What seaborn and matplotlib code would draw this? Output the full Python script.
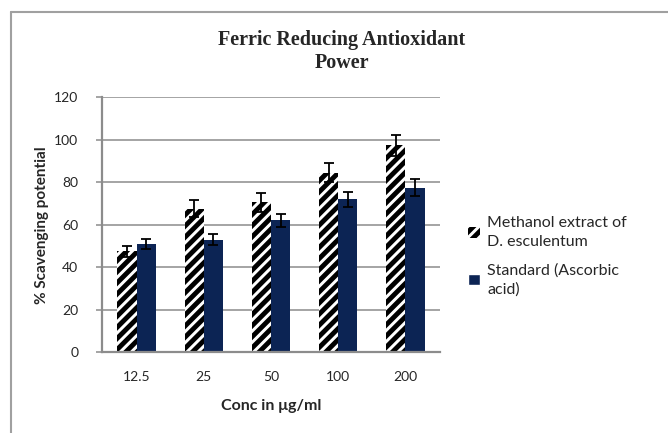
import matplotlib
matplotlib.use("Agg")
import matplotlib.pyplot as plt
from matplotlib.lines import Line2D
import pandas as pd
import seaborn as sns

# values
conc = ["12.5", "25", "50", "100", "200"]
methanol = [47.5, 67.5, 70.5, 84.5, 97.5]
methanol_err = [2.5, 4.0, 4.5, 4.5, 5.0]
standard = [51.0, 53.0, 62.0, 72.0, 77.5]
standard_err = [2.5, 2.5, 3.0, 3.5, 4.0]
series = ["Methanol extract of\nD. esculentum", "Standard (Ascorbic\nacid)"]

df = pd.DataFrame({
    "conc": conc * 2,
    "value": methanol + standard,
    "series": [series[0]] * len(conc) + [series[1]] * len(conc),
})

sns.set_style("white")
plt.rcParams["font.family"] = ["Lato", "DejaVu Sans"]
plt.rcParams["hatch.linewidth"] = 3.5

fig = plt.figure(figsize=(6.68, 4.33), dpi=100)
ax = fig.add_axes([0.1527, 0.187, 0.506, 0.588])

sns.barplot(data=df, x="conc", y="value", hue="series", order=conc,
            palette=["white", "#002060"], width=0.57, gap=0,
            errorbar=None, ax=ax)

# hatch the methanol bars, flat navy for the standard
for p in ax.containers[0]:
    p.set_hatch("///")
    p.set_edgecolor("black")
    p.set_linewidth(0)
for p in ax.containers[1]:
    p.set_linewidth(0)

# error bars at the bar centres
for cont, errs in zip(ax.containers, [methanol_err, standard_err]):
    xs = [p.get_x() + p.get_width() / 2 for p in cont]
    ys = [p.get_height() for p in cont]
    ax.errorbar(xs, ys, yerr=errs, fmt="none", ecolor="black",
                elinewidth=1.3, capsize=3.5, capthick=1.3, zorder=5)

ax.set_ylim(0, 120)
ax.set_yticks(range(0, 121, 20))
ax.yaxis.grid(True, color="#8c8c8c", linewidth=1.1)
ax.set_axisbelow(True)
for s in ["top", "right"]:
    ax.spines[s].set_visible(False)
for s in ["left", "bottom"]:
    ax.spines[s].set_color("#8c8c8c")
    ax.spines[s].set_linewidth(1.6)
ax.tick_params(axis="y", length=4, width=1.1, color="#8c8c8c", pad=13,
               labelsize=10, left=True)
ax.tick_params(axis="x", length=0, pad=14, labelsize=10)

ax.set_xlabel("Conc in μg/ml", fontsize=11.5, fontweight="bold", labelpad=11)
ax.set_ylabel("% Scavenging potential", fontsize=11, fontweight="bold",
              labelpad=4)

fig.text(0.512, 0.882, "Ferric Reducing Antioxidant\nPower", ha="center",
         va="center", fontsize=14.5, fontweight="bold",
         family="Liberation Serif", linespacing=1.2)

leg = ax.legend(loc="upper left", bbox_to_anchor=(0.679, 0.535),
                bbox_transform=fig.transFigure, frameon=False, fontsize=11.5,
                handlelength=0.75, handleheight=0.7, handletextpad=0.45,
                labelspacing=0.9)
for t in leg.get_texts():
    t.set_linespacing(1.45)
h = leg.legend_handles[0]
h.set_hatch("///")
h.set_facecolor("white")
h.set_edgecolor("black")
h.set_linewidth(0)

# outer chart frame (left and top edges visible)
fig.add_artist(Line2D([0.0165, 0.0165], [0.0, 0.972], color="#a0a0a0",
                      linewidth=1.5, transform=fig.transFigure))
fig.add_artist(Line2D([0.0165, 1.0], [0.972, 0.972], color="#a0a0a0",
                      linewidth=1.5, transform=fig.transFigure))

fig.savefig("out.png", dpi=100)
